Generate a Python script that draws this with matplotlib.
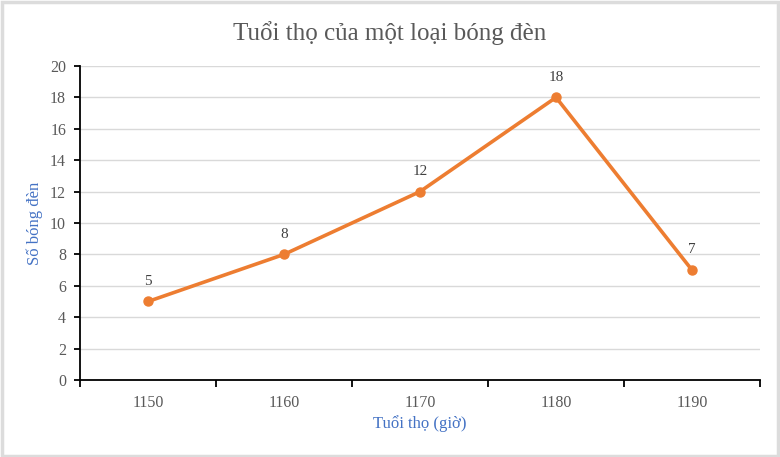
import matplotlib
matplotlib.use('Agg')
import matplotlib.pyplot as plt
import numpy as np

categories = ['1150', '1160', '1170', '1180', '1190']
counts = [5, 8, 12, 18, 7]
yticks = [0, 2, 4, 6, 8, 10, 12, 14, 16, 18, 20]

plt.rcParams['font.family'] = ['Liberation Serif', 'DejaVu Serif']

fig = plt.figure(figsize=(7.8, 4.57), dpi=100)
fig.patch.set_facecolor('white')
# light grey frame round the picture
fig.add_artist(plt.Rectangle((0.002, 0.003), 0.995, 0.993, transform=fig.transFigure,
                             fill=False, edgecolor='#dcdcdc', linewidth=2.5))

ax = fig.add_axes([0.1026, 0.1685, 0.8718, 0.6871])
x = np.arange(len(categories))
ax.plot(x, counts, color='#ED7D31', linewidth=2.6, marker='o', markersize=6.5,
        markerfacecolor='#ED7D31', markeredgecolor='#ED7D31', zorder=3)
for xi, v in zip(x, counts):
    ax.annotate(str(v), (xi, v), xytext=(0, 10), textcoords='offset points',
                ha='center', va='bottom', fontsize=11, color='#404040')

ax.set_xlim(-0.5, len(categories) - 0.5)
ax.set_ylim(0, 20)
ax.set_yticks(yticks)
ax.set_xticks(x)
ax.set_xticklabels(categories)
ax.set_xticks(np.arange(-0.5, len(categories)), minor=True)
ax.tick_params(axis='x', which='major', length=0, pad=11, labelsize=11.5, labelcolor='#595959')
ax.tick_params(axis='x', which='minor', length=5, width=1.3, direction='out', color='black')
ax.tick_params(axis='y', length=4, width=1.3, direction='out', labelsize=11.5, labelcolor='#595959', pad=6)
ax.grid(axis='y', color='#d9d9d9', linewidth=1)
ax.set_axisbelow(True)
for s in ['top', 'right']:
    ax.spines[s].set_visible(False)
ax.spines['left'].set_linewidth(1.3)
ax.spines['bottom'].set_linewidth(1.3)

ax.set_xlabel('Tuổi thọ (giờ)', fontsize=12, color='#4472C4', labelpad=3)
ax.set_ylabel('Số bóng đèn', fontsize=12, color='#4472C4', labelpad=5)
fig.text(0.5, 0.927, 'Tuổi thọ của một loại bóng đèn', ha='center', va='center',
         fontsize=18, color='#595959')

fig.savefig('out.png', dpi=100)
